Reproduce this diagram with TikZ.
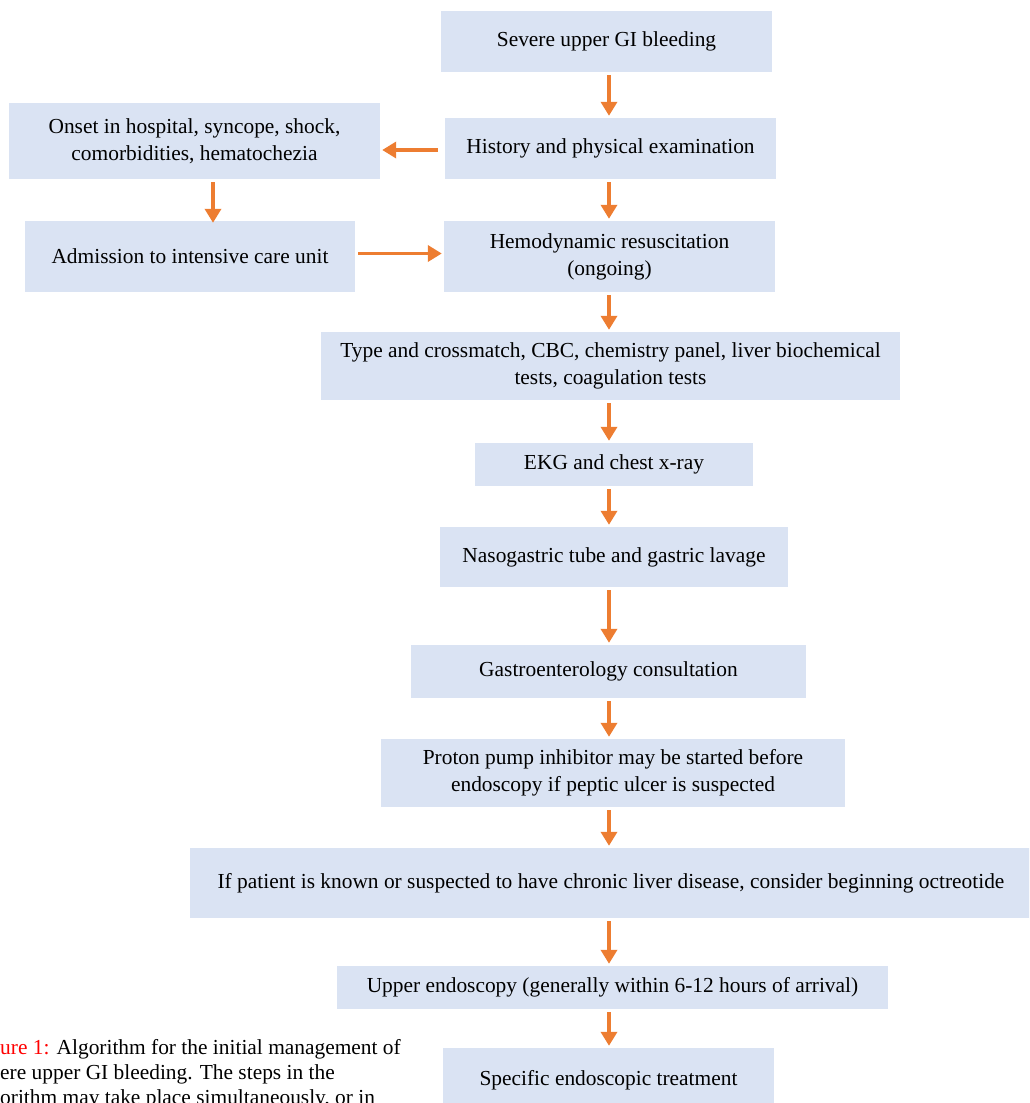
\documentclass[tikz,border=0pt]{standalone}
\usepackage{fontspec}
\setmainfont{Liberation Serif}
\usepackage{xcolor}
\definecolor{boxblue}{HTML}{DAE3F3}
\definecolor{arrorange}{HTML}{ED7D31}
\definecolor{figred}{HTML}{FF0000}
\usetikzlibrary{arrows.meta}

\begin{document}
\begin{tikzpicture}[x=1pt,y=-1pt,
    flowbox/.style={fill=boxblue, inner sep=0pt, align=center,
      font=\fontsize{21.4}{27}\selectfont},
    arr/.style={draw=arrorange, line width=3.8pt,
      -{Triangle[width=16pt,length=14pt]}, shorten <=3pt, shorten >=2pt},
    caption/.style={align=left, inner sep=0pt,
      font=\fontsize{21.4}{25}\selectfont}]
  % page frame
  \useasboundingbox (0,0) rectangle (1029,1103);
  \clip (0,0) rectangle (1029,1103);

  % axes for the arrows
  \coordinate (axis) at (609,0);
  \coordinate (side) at (213,0);

  % main column
  \node[flowbox, minimum width=331pt, minimum height=61pt] (sev) at (606.5,41.5) {Severe upper GI bleeding};
  \node[flowbox, minimum width=331pt, minimum height=61pt] (hist) at (610.5,148.5) {History and physical examination};
  \node[flowbox, minimum width=331pt, minimum height=71pt] (hemo) at (609.5,256.5) {Hemodynamic resuscitation\\(ongoing)};
  \node[flowbox, minimum width=579pt, minimum height=68pt] (labs) at (610.5,366) {Type and crossmatch, CBC, chemistry panel, liver biochemical\\tests, coagulation tests};
  \node[flowbox, minimum width=278pt, minimum height=43pt] (ekg) at (614,464.5) {EKG and chest x-ray};
  \node[flowbox, minimum width=348pt, minimum height=60pt] (ngt) at (614,557) {Nasogastric tube and gastric lavage};
  \node[flowbox, minimum width=395pt, minimum height=53pt] (gicons) at (608.5,671.5) {Gastroenterology consultation};
  \node[flowbox, minimum width=464pt, minimum height=68pt] (ppi) at (613,773) {Proton pump inhibitor may be started before\\endoscopy if peptic ulcer is suspected};
  \node[flowbox, minimum width=842pt, minimum height=70pt] (liver) at (611,883) {If patient is known or suspected to have chronic liver disease, consider beginning octreotide};
  \node[flowbox, minimum width=551pt, minimum height=43pt] (endo) at (612.5,987.5) {Upper endoscopy (generally within 6-12 hours of arrival)};
  \node[flowbox, minimum width=331pt, minimum height=64pt] (treat) at (608.5,1080) {Specific endoscopic treatment};

  % side branch
  \node[flowbox, minimum width=371pt, minimum height=76pt] (onset) at (194.5,141) {Onset in hospital, syncope, shock,\\comorbidities, hematochezia};
  \node[flowbox, minimum width=330pt, minimum height=71pt] (icu) at (190,256.5) {Admission to intensive care unit};

  % caption (cut by the page edge)
  \node[caption, anchor=north west] (capt) at (0,1039) {\textcolor{figred}{ure 1:} Algorithm for the initial management of\\ere upper GI bleeding. The steps in the\\orithm may take place simultaneously, or in};

  % arrows
  \draw[arr] (sev.south -| axis) -- (hist.north -| axis);
  \draw[arr] (hist.south -| axis) -- (hemo.north -| axis);
  \draw[arr] (hemo.south -| axis) -- (labs.north -| axis);
  \draw[arr] (labs.south -| axis) -- (ekg.north -| axis);
  \draw[arr] (ekg.south -| axis) -- (ngt.north -| axis);
  \draw[arr] (ngt.south -| axis) -- (gicons.north -| axis);
  \draw[arr] (gicons.south -| axis) -- (ppi.north -| axis);
  \draw[arr] (ppi.south -| axis) -- (liver.north -| axis);
  \draw[arr] (liver.south -| axis) -- (endo.north -| axis);
  \draw[arr] (endo.south -| axis) -- (treat.north -| axis);
  \draw[arr, shorten <=7pt] ([yshift=-1.5pt]hist.west) -- ([yshift=-1.5pt]onset.east |- hist.west);
  \draw[arr] (onset.south -| side) -- ([yshift=-4pt]icu.north -| side);
  \draw[arr] ([yshift=3pt]icu.east) -- ([yshift=3pt]hemo.west |- icu.east);
\end{tikzpicture}
\end{document}
